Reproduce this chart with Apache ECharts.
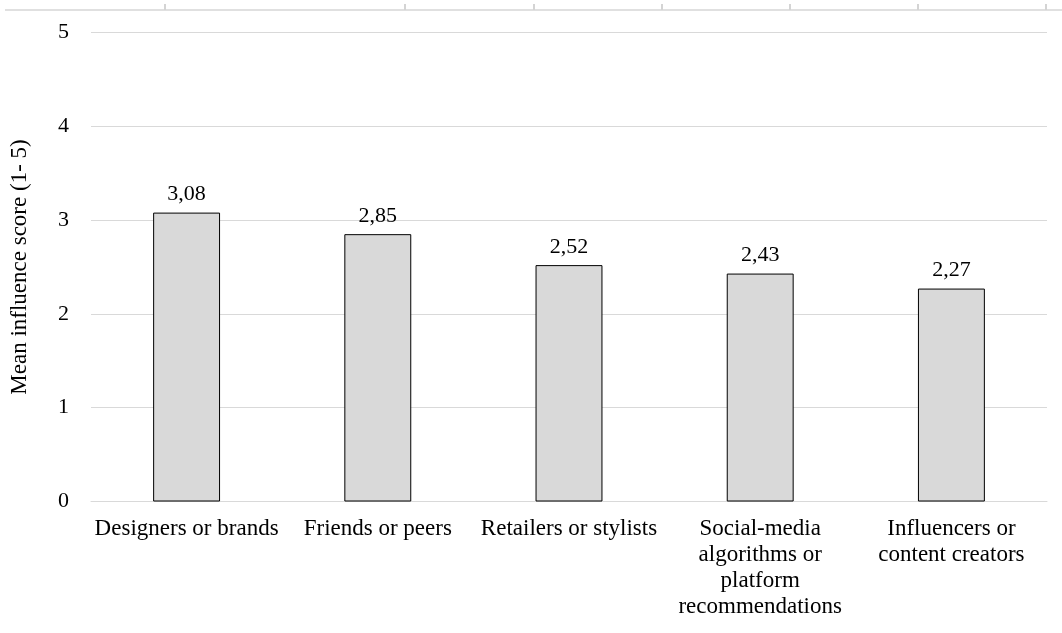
<!DOCTYPE html>
<html>
<head>
<meta charset="utf-8">
<style>
  html, body { margin: 0; padding: 0; background: #ffffff; }
  #chart { width: 1062px; height: 633px; }
</style>
<script src="https://cdn.jsdelivr.net/npm/echarts@6/dist/echarts.min.js"></script>
</head>
<body>
<div id="chart"></div>
<script>
// Influence sources and their mean scores on a 1-5 scale
const categories = [
  'Designers or brands',
  'Friends or peers',
  'Retailers or stylists',
  'Social-media\nalgorithms or\nplatform\nrecommendations',
  'Influencers or\ncontent creators'
];
const meanScores = [3.08, 2.85, 2.52, 2.43, 2.27];
const yTicks = [0, 1, 2, 3, 4, 5];
const yAxisTitle = 'Mean influence score (1- 5)';

// Thin ruler line across the top of the page, with its small tab marks
const rulerMarks = [165, 405, 534, 662, 790, 918, 1046];

const serif = '"Liberation Serif", "Times New Roman", serif';
const chart = echarts.init(document.getElementById('chart'), null, { renderer: 'canvas' });

const graphics = [{
  type: 'line',
  shape: { x1: 5, y1: 10, x2: 1062, y2: 10 },
  style: { stroke: '#e0e0e0', lineWidth: 2 },
  silent: true
}].concat(rulerMarks.map(x => ({
  type: 'line',
  shape: { x1: x, y1: 4, x2: x, y2: 10 },
  style: { stroke: '#d4d4d4', lineWidth: 2 },
  silent: true
})));

chart.setOption({
  animation: false,
  backgroundColor: '#ffffff',
  textStyle: { fontFamily: serif, color: '#000' },
  graphic: graphics,
  grid: { left: 87, right: 15, top: 32.5, bottom: 131.5, containLabel: false },
  xAxis: {
    type: 'category',
    data: categories,
    axisLine: { show: true, lineStyle: { color: '#d9d9d9', width: 1 } },
    axisTick: { show: false },
    axisLabel: {
      interval: 0,
      margin: 14,
      fontSize: 23,
      lineHeight: 26,
      color: '#000',
      fontFamily: serif
    }
  },
  yAxis: {
    type: 'value',
    min: yTicks[0],
    max: yTicks[yTicks.length - 1],
    interval: 1,
    name: yAxisTitle,
    nameLocation: 'middle',
    nameRotate: 90,
    nameGap: 60,
    nameTextStyle: { fontSize: 23, color: '#000', fontFamily: serif },
    axisLine: { show: false },
    axisTick: { show: false },
    axisLabel: { margin: 22, fontSize: 22, color: '#000', fontFamily: serif },
    splitLine: { show: true, lineStyle: { color: '#d9d9d9', width: 1 } }
  },
  series: [{
    type: 'bar',
    data: meanScores,
    barWidth: '35%',
    itemStyle: { color: '#d9d9d9', borderColor: '#000', borderWidth: 1 },
    label: {
      show: true,
      position: 'top',
      distance: 7,
      fontSize: 22,
      color: '#000',
      fontFamily: serif,
      formatter: p => p.value.toFixed(2).replace('.', ',')
    }
  }]
});
</script>
</body>
</html>
